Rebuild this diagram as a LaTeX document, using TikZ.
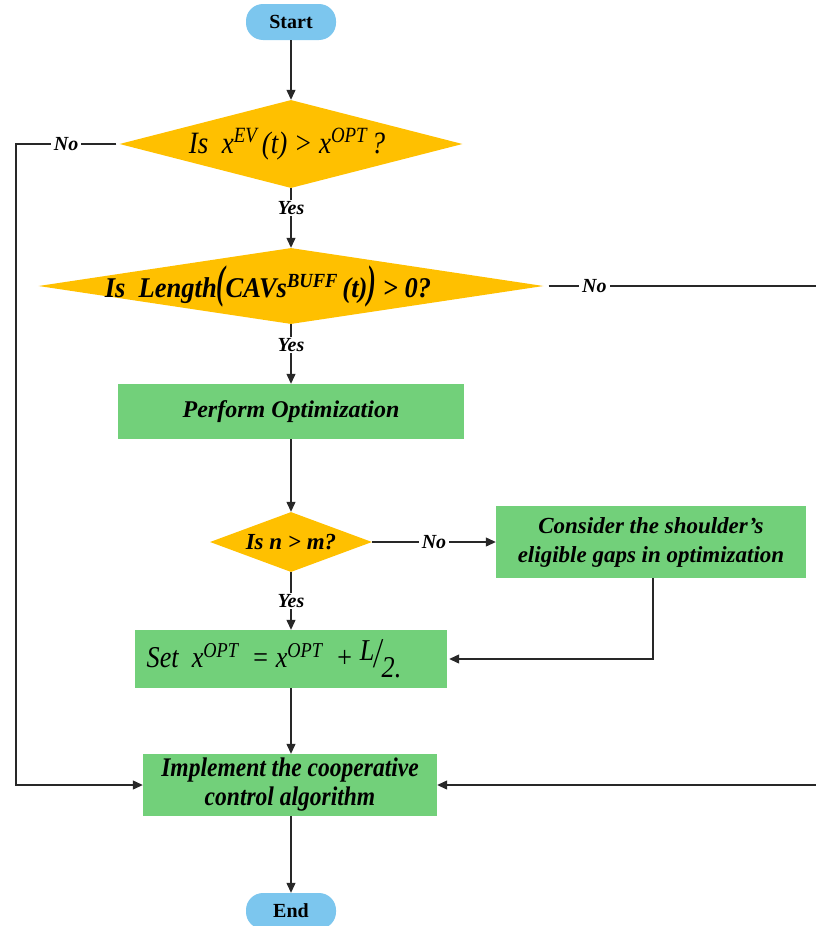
\documentclass[tikz,border=0pt]{standalone}
\usepackage{fontspec}
\setmainfont{Liberation Serif}
\usetikzlibrary{shapes.geometric,arrows.meta}
\definecolor{termblue}{RGB}{124,198,238}
\definecolor{decorange}{RGB}{255,192,0}
\definecolor{procgreen}{RGB}{114,208,122}
\definecolor{linegray}{RGB}{40,40,40}
\newcommand{\supx}[1]{\textsuperscript{#1}}
\begin{document}
\begin{tikzpicture}[x=1pt,y=-1pt,
  terminal/.style={rectangle,rounded corners=17pt,fill=termblue,minimum width=90pt,
    minimum height=36pt,inner sep=0pt,font=\fontsize{20}{22}\selectfont\bfseries},
  decision/.style={diamond,fill=decorange,inner sep=0pt},
  process/.style={rectangle,fill=procgreen,inner sep=0pt,align=center},
  conn/.style={draw=linegray,line width=1.2pt},
  arr/.style={conn,-{Triangle[length=10pt,width=9pt]}},
  lbl/.style={fill=white,inner xsep=3pt,inner ysep=1pt,
    font=\fontsize{20}{22}\selectfont\bfseries\itshape}
]
\useasboundingbox (0,0) rectangle (816,926);

% nodes
\node[terminal] (start) at (291,22) {Start};
\node[decision,minimum width=343pt,minimum height=88pt,
  label={[font=\fontsize{27}{30}\selectfont\itshape,xshift=-4pt]center:\scalebox{1.0}[1.15]{Is\ \ x\supx{EV}\,(t) > x\supx{OPT}\,?}}]
  (d1) at (291,144) {};
\node[decision,minimum width=505pt,minimum height=76pt,
  label={[font=\fontsize{26}{28}\selectfont\bfseries\itshape,xshift=-23pt]center:\scalebox{1.02}[1.1]{Is\ \ Length\scalebox{1}[1.6]{(}CAVs\supx{BUFF}\,(t)\scalebox{1}[1.6]{)} > 0?}}]
  (d2) at (291,286) {};
\node[process,minimum width=346pt,minimum height=55pt,
  font=\fontsize{24}{26}\selectfont\bfseries\itshape] (perf) at (291,411.5)
  {Perform Optimization};
\node[decision,minimum width=162pt,minimum height=60pt,
  label={[font=\fontsize{23}{24}\selectfont\bfseries\itshape]center:Is n > m?}]
  (d3) at (291,542) {};
\node[process,minimum width=310pt,minimum height=72pt,
  font=\fontsize{23}{29}\selectfont\bfseries\itshape] (cons) at (651,542)
  {Consider the shoulder’s\\eligible gaps in optimization};
\node[process,minimum width=312pt,minimum height=58pt,
  font=\fontsize{27}{30}\selectfont\itshape] (setb) at (291,659)
  {\hspace*{-34pt}\scalebox{0.97}[1.12]{Set\ \ x\supx{OPT}\ \ = x\supx{OPT}\ \ +
   \raisebox{6pt}{L}\scalebox{1}[1.4]{/}\raisebox{-9pt}{2.}}};
\node[process,minimum width=294pt,minimum height=62pt,
  font=\fontsize{24}{29}\selectfont\bfseries\itshape] (impl) at (290,785)
  {\scalebox{0.98}[1.12]{Implement the cooperative}\\\scalebox{0.98}[1.12]{control algorithm}};
\node[terminal] (end) at (291,911) {End};

% corner points of the return paths
\coordinate (lt) at (16,144);
\coordinate (rt) at (817,286);

% connectors
\draw[arr] (start) -- (d1);
\draw[arr] (d1.west) ++(-3,0) -- node[lbl]{No} (lt) |- (impl.west);
\draw[arr] (d1) -- node[lbl,pos=0.33]{Yes} (d2);
\draw[arr] (d2.east) ++(5,0) -- node[lbl,pos=0.17]{No} (rt) |- (impl.east);
\draw[arr] (d2) -- node[lbl,pos=0.35]{Yes} (perf);
\draw[arr] (perf) -- (d3);
\draw[arr] (d3) -- node[lbl]{No} (cons);
\draw[arr] (d3) -- node[lbl]{Yes} (setb);
\draw[arr] (cons.south) ++(2,0) |- ([xshift=2pt]setb.east);
\draw[arr] (setb) -- (setb |- impl.north);
\draw[arr] (impl.south -| end) -- (end);
\end{tikzpicture}
\end{document}
